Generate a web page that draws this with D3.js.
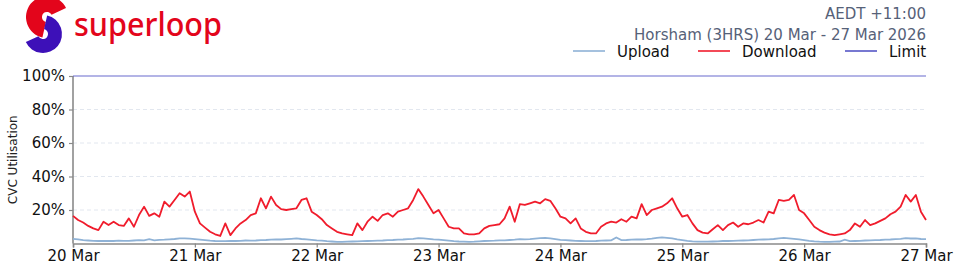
<!DOCTYPE html>
<html>
<head>
<meta charset="utf-8">
<script src="https://cdn.jsdelivr.net/npm/d3@7"></script>
<style>
  body { margin: 0; background: #fff; }
  svg { display: block; font-family: "DejaVu Sans", sans-serif; }
</style>
</head>
<body>
<div id="chart"></div>
<script>
var width = 960,
    height = 274,
    margin = {top: 76, right: 34, bottom: 30.5, left: 73};

var startDay = new Date(2026, 2, 20);
var dayLabels = ["20 Mar", "21 Mar", "22 Mar", "23 Mar", "24 Mar", "25 Mar", "26 Mar", "27 Mar"];
var yTicks = [20, 40, 60, 80, 100];
var limitValue = 100;

// hourly utilisation (%), 20 Mar 00:00 -> 27 Mar 00:00
var downloadValues = [
  16.5, 14, 12.5, 10.5, 9, 8, 13, 11, 13, 11, 10.5, 15, 10, 17, 22, 16.5, 18, 16, 25, 22, 26, 30, 28, 31,
  19, 12, 9.5, 7, 5.5, 4.5, 12, 5, 9, 12, 14, 17, 18, 27, 21, 28, 23, 20.5, 20, 20.5, 21, 26, 27, 19,
  17, 14.5, 11, 9, 7, 6, 5.5, 5, 12, 8, 13, 16, 13.5, 17, 18, 16, 19, 20, 21, 26, 32.5, 28, 23, 18,
  20, 15, 10, 9, 9, 6, 5.5, 5.5, 6, 9, 10.5, 11, 11.5, 15, 22, 13, 23.5, 23, 24, 25, 24, 26.5, 25.5, 21,
  16, 15, 12, 15, 9, 7, 6, 6, 10, 12, 13, 12.5, 14.5, 13, 16, 15, 23.5, 17, 20, 21, 22, 24, 27, 21,
  16, 17, 12, 8, 6.5, 6, 8.5, 11, 8, 11, 12.5, 10, 12, 11.5, 12.5, 14, 12.5, 19, 18, 26, 25.5, 26, 29, 20,
  18, 14, 10, 8, 6.5, 5.5, 5, 5.5, 6, 8, 12, 10, 14, 11, 12, 13.5, 15, 17.5, 19, 22, 29, 25, 29, 19,
  14
];

var uploadValues = [
  2.8, 2.4, 2.0, 1.8, 1.6, 1.5, 1.5, 1.6, 1.5, 1.7, 1.6, 1.6, 1.8, 2.0, 1.9, 2.6, 1.9, 2.2, 2.3, 2.5, 2.7, 3.0, 3.1, 2.9,
  2.6, 2.3, 2.0, 1.7, 1.5, 1.4, 1.4, 1.5, 1.5, 1.6, 1.8, 1.7, 1.8, 2.0, 2.1, 2.3, 2.5, 2.4, 2.6, 2.8, 3.0, 2.7, 2.5, 2.2,
  1.9, 1.7, 1.4, 1.2, 1.0, 1.0, 1.1, 1.2, 1.3, 1.4, 1.5, 1.6, 1.7, 1.8, 2.0, 2.1, 2.3, 2.4, 2.6, 2.8, 3.2, 3.0, 2.8, 2.5,
  2.3, 2.0, 1.7, 1.4, 1.2, 1.1, 1.0, 1.1, 1.3, 1.5, 1.6, 1.7, 1.9, 1.9, 2.1, 2.3, 2.6, 2.5, 2.6, 2.9, 3.2, 3.3, 3.0, 2.6,
  2.2, 2.0, 1.8, 1.6, 1.5, 1.4, 1.4, 1.5, 1.7, 1.8, 1.9, 3.6, 2.0, 2.1, 2.3, 2.4, 2.4, 2.6, 2.9, 3.3, 3.6, 3.4, 3.0, 2.4,
  2.0, 1.6, 1.3, 1.1, 1.1, 1.1, 1.2, 1.3, 1.5, 1.5, 1.6, 1.7, 1.8, 1.9, 2.1, 2.3, 2.4, 2.5, 2.7, 3.0, 3.3, 3.1, 2.8, 2.4,
  2.0, 1.6, 1.3, 1.1, 1.0, 1.0, 1.1, 1.2, 2.3, 1.4, 1.5, 1.6, 1.8, 1.9, 2.0, 2.1, 2.3, 2.4, 2.6, 2.8, 3.2, 3.0, 3.1, 2.7,
  2.6
];

var legendItems = [
  {name: "Upload", color: "#8fb2d6"},
  {name: "Download", color: "#f01c2c"},
  {name: "Limit", color: "#5556c6"}
];

var svg = d3.select("#chart").append("svg")
    .attr("width", width)
    .attr("height", height);

// logo
var logo = svg.append("g");
logo.append("path")
    .attr("transform", "translate(47,17)")
    .attr("fill", "#e3051b")
    .attr("d", d3.arc().innerRadius(5).outerRadius(21).startAngle(-0.93 * Math.PI).endAngle(0.36 * Math.PI)());
logo.append("path")
    .attr("transform", "translate(43,34)")
    .attr("fill", "#3d10b8")
    .attr("d", d3.arc().innerRadius(5).outerRadius(19).startAngle(0.07 * Math.PI).endAngle(1.36 * Math.PI)());
logo.append("text")
    .attr("x", 74)
    .attr("y", 36)
    .attr("fill", "#e3051b")
    .style("font-family", "'Noto Sans', sans-serif")
    .style("font-weight", 500)
    .style("font-size", "33px")
    .attr("textLength", 148)
    .attr("lengthAdjust", "spacingAndGlyphs")
    .text("superloop");

// title block
svg.append("text")
    .attr("x", 926).attr("y", 19)
    .attr("text-anchor", "end")
    .attr("fill", "#566178")
    .style("font-size", "15px")
    .text("AEDT +11:00");
svg.append("text")
    .attr("x", 926).attr("y", 40)
    .attr("text-anchor", "end")
    .attr("fill", "#566178")
    .style("font-size", "15px")
    .text("Horsham (3HRS) 20 Mar - 27 Mar 2026");

// legend
var legendX = [573, 698, 845];
var legend = svg.append("g").selectAll("g")
    .data(legendItems)
  .enter().append("g")
    .attr("transform", function(d, i) { return "translate(" + legendX[i] + ",51)"; });
legend.append("line")
    .attr("x1", 0).attr("x2", 32)
    .attr("stroke", function(d) { return d.color; })
    .attr("stroke-width", 1.6);
legend.append("text")
    .attr("x", 44).attr("y", 5.5)
    .attr("fill", "#111")
    .style("font-size", "15px")
    .text(function(d) { return d.name; });

// scales
var x = d3.scaleTime()
    .domain([startDay, d3.timeDay.offset(startDay, 7)])
    .range([margin.left, width - margin.right]);

var y = d3.scaleLinear()
    .domain([0, 100])
    .range([height - margin.bottom, margin.top]);

var times = downloadValues.map(function(d, i) { return d3.timeHour.offset(startDay, i); });

// grid
svg.append("g").selectAll("line")
    .data(yTicks.filter(function(t) { return t < 100; }))
  .enter().append("line")
    .attr("x1", margin.left).attr("x2", width - margin.right)
    .attr("y1", function(d) { return y(d); })
    .attr("y2", function(d) { return y(d); })
    .attr("stroke", "#e2e7ef")
    .attr("stroke-dasharray", "4,3");

// axes
var xAxis = svg.append("g")
    .attr("transform", "translate(0," + (height - margin.bottom) + ")")
    .call(d3.axisBottom(x)
        .tickValues(dayLabels.map(function(d, i) { return d3.timeDay.offset(startDay, i); }))
        .tickFormat(function(d, i) { return dayLabels[i]; })
        .tickSizeOuter(0)
        .tickSize(4)
        .tickPadding(3));

var yAxis = svg.append("g")
    .attr("transform", "translate(" + margin.left + ",0)")
    .call(d3.axisLeft(y)
        .tickValues(yTicks)
        .tickFormat(function(d) { return d + "%"; })
        .tickSizeOuter(0)
        .tickSize(4)
        .tickPadding(4));

[xAxis, yAxis].forEach(function(a) {
  a.selectAll(".domain").attr("stroke", "#8a8a8a").attr("stroke-width", 1.6);
  a.selectAll(".tick line").attr("stroke", "#8a8a8a").attr("stroke-width", 1.2);
  a.selectAll("text").attr("fill", "#111").style("font-family", "'DejaVu Sans', sans-serif");
});
xAxis.selectAll("text").style("font-size", "15px");
yAxis.selectAll("text").style("font-size", "15px");
yAxis.select(".domain").attr("d", "M0," + y(0) + "V" + y(100));

svg.append("text")
    .attr("transform", "translate(17," + (margin.top + (height - margin.bottom - margin.top) / 2) + ")rotate(-90)")
    .attr("text-anchor", "middle")
    .attr("fill", "#222")
    .style("font-size", "12px")
    .text("CVC Utilisation");

// limit
svg.append("line")
    .attr("x1", margin.left).attr("x2", width - margin.right)
    .attr("y1", y(limitValue)).attr("y2", y(limitValue))
    .attr("stroke", legendItems[2].color)
    .attr("stroke-opacity", 0.6)
    .attr("stroke-width", 1.3);

// series
var line = d3.line()
    .x(function(d, i) { return x(times[i]); })
    .y(function(d) { return y(d); });

svg.append("path")
    .datum(uploadValues)
    .attr("fill", "none")
    .attr("stroke", legendItems[0].color)
    .attr("stroke-width", 1.8)
    .attr("d", line);

svg.append("path")
    .datum(downloadValues)
    .attr("fill", "none")
    .attr("stroke", legendItems[1].color)
    .attr("stroke-width", 1.8)
    .attr("stroke-linejoin", "round")
    .attr("d", line);
</script>
</body>
</html>
